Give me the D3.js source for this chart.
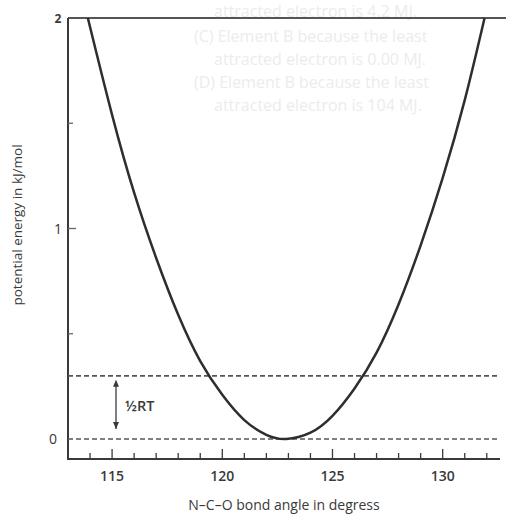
<!DOCTYPE html>
<html>
<head>
<meta charset="utf-8">
<script src="https://cdn.jsdelivr.net/npm/d3@7"></script>
<style>
  html, body { margin: 0; padding: 0; background: #fff; }
  svg { display: block; }
  text { font-family: "Open Sans", "Noto Sans", sans-serif; }
</style>
</head>
<body>
<svg id="chart" width="506" height="517"></svg>
<script>
// ---- data ----
const angles   = [113.9, 115, 116, 117, 118, 119, 120, 121, 122, 122.9, 124, 125, 126, 127, 128, 129, 130, 131, 131.9];
const energies = [2.00, 1.54, 1.17, 0.86, 0.59, 0.37, 0.21, 0.09, 0.02, 0.00, 0.03, 0.11, 0.24, 0.41, 0.64, 0.92, 1.24, 1.61, 2.00];
const levels   = [0, 0.3];               // dashed energy levels (0 and ½RT)
const xMajorTicks = [115, 120, 125, 130];
const xMinorTicks = [114, 115, 116, 117, 118, 119, 120, 121, 122, 123, 124, 125, 126, 127, 128, 129, 130, 131, 132];
const yLabels  = [0, 1, 2];
const yMinorTicks = [0.5, 1, 1.5];
const bleedLines = [
  "attracted electron is 4.2 MJ.",
  "(C) Element B because the least",
  "attracted electron is 0.00 MJ.",
  "(D) Element B because the least",
  "attracted electron is 104 MJ."
];

const svg = d3.select("#chart");
const x = d3.scaleLinear().domain([113, 132.6]).range([68, 500]);
const y = d3.scaleLinear().domain([0, 2]).range([439, 18]);
const ink = "#3a3a3a";

// faint show-through text from the scanned page
const bleedX = [214, 194, 214, 194, 214];
const bleedY = [17, 42, 65, 88, 111];
svg.append("g").selectAll("text").data(bleedLines).join("text")
  .attr("x", (d, i) => bleedX[i]).attr("y", (d, i) => bleedY[i])
  .attr("font-size", 16).attr("fill", "#ececec").attr("font-weight", 400)
  .text(d => d);

// frame: top line, left axis, bottom axis
svg.append("line").attr("x1", 68).attr("x2", 506).attr("y1", y(2)).attr("y2", y(2))
  .attr("stroke", "#555").attr("stroke-width", 2);
svg.append("line").attr("x1", 68).attr("x2", 68).attr("y1", y(2)).attr("y2", 459)
  .attr("stroke", ink).attr("stroke-width", 2);
svg.append("line").attr("x1", 67).attr("x2", 500).attr("y1", 459).attr("y2", 459)
  .attr("stroke", ink).attr("stroke-width", 2);

// x ticks (pointing up, inside)
svg.append("g").selectAll("line").data(xMinorTicks).join("line")
  .attr("x1", d => x(d)).attr("x2", d => x(d))
  .attr("y1", 459).attr("y2", d => xMajorTicks.includes(d) ? 449 : 453)
  .attr("stroke", ink).attr("stroke-width", 1.3);

svg.append("g").selectAll("text").data(xMajorTicks).join("text")
  .attr("x", d => x(d)).attr("y", 481)
  .attr("text-anchor", "middle").attr("font-size", 14).attr("font-weight", 600)
  .attr("fill", ink).text(d => d);

// y ticks (pointing right, inside)
svg.append("g").selectAll("line").data(yMinorTicks).join("line")
  .attr("x1", 68).attr("x2", d => d === 1 ? 76 : 73)
  .attr("y1", d => y(d)).attr("y2", d => y(d))
  .attr("stroke", "#666").attr("stroke-width", 1.3);

svg.append("g").selectAll("text").data(yLabels).join("text")
  .attr("x", d => d === 0 ? 53 : 58).attr("y", d => y(d) + 5)
  .attr("text-anchor", "middle").attr("font-size", d => d === 2 ? 12 : 14)
  .attr("font-weight", d => d === 2 ? 700 : 500)
  .attr("fill", ink).text(d => d);

// dashed levels
svg.append("g").selectAll("line").data(levels).join("line")
  .attr("x1", 68).attr("x2", 500)
  .attr("y1", d => y(d)).attr("y2", d => y(d))
  .attr("stroke", "#555").attr("stroke-width", 1.6)
  .attr("stroke-dasharray", "5,3");

// ½RT arrow
const ax = 116;
svg.append("line").attr("x1", ax).attr("x2", ax)
  .attr("y1", y(levels[1]) + 6).attr("y2", y(levels[0]) - 10)
  .attr("stroke", ink).attr("stroke-width", 1.3);
const a1 = y(levels[1]) + 4, a2 = y(levels[0]) - 10;
svg.append("path").attr("d", `M${ax},${a1} L${ax - 3},${a1 + 7} L${ax + 3},${a1 + 7} Z`).attr("fill", ink);
svg.append("path").attr("d", `M${ax},${a2} L${ax - 3},${a2 - 7} L${ax + 3},${a2 - 7} Z`).attr("fill", ink);
svg.append("text").attr("x", 125).attr("y", 411)
  .attr("font-size", 14.5).attr("font-weight", 600).attr("fill", ink).text("½RT");

// potential energy curve
const pts = angles.map((a, i) => [a, energies[i]]);
svg.append("path").datum(pts)
  .attr("fill", "none").attr("stroke", "#2e2e2e").attr("stroke-width", 2.5)
  .attr("d", d3.line().x(d => x(d[0])).y(d => y(d[1])).curve(d3.curveNatural));

// axis titles
svg.append("text").attr("transform", "translate(22,225) rotate(-90)")
  .attr("text-anchor", "middle").attr("font-size", 13.5).attr("fill", ink)
  .text("potential energy in kJ/mol");
svg.append("text").attr("x", 284).attr("y", 510)
  .attr("text-anchor", "middle").attr("font-size", 14).attr("fill", ink)
  .text("N–C–O bond angle in degress");
</script>
</body>
</html>
